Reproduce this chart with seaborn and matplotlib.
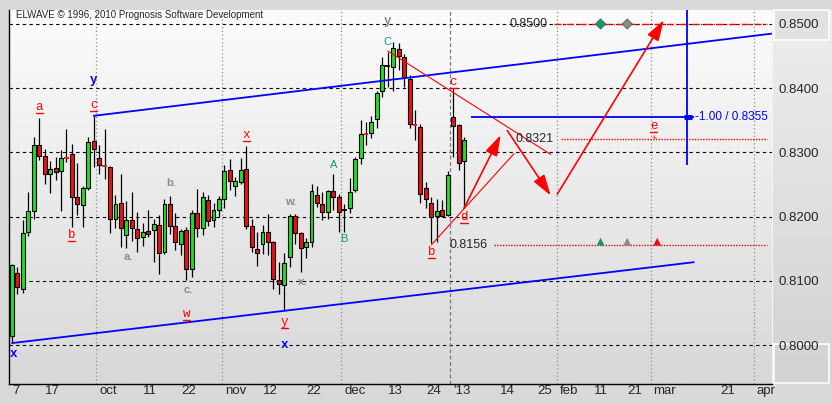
import numpy as np
import pandas as pd
import matplotlib
matplotlib.use("Agg")
import matplotlib.pyplot as plt
import matplotlib.transforms as mtrans
from matplotlib.patches import Rectangle
from matplotlib.ticker import MultipleLocator
import seaborn as sns

# daily bars, 7 sep 2012 .. 4 jan 2013
opens = [0.8014, 0.8112, 0.8088, 0.8176, 0.8208, 0.8311, 0.8295, 0.8266, 0.8275, 0.8271,
         0.8292, 0.8297, 0.8230, 0.8218, 0.8245, 0.8317, 0.8292, 0.8279, 0.8278, 0.8197,
         0.8221, 0.8172, 0.8194, 0.8180, 0.8168, 0.8178, 0.8179, 0.8187, 0.8145, 0.8219,
         0.8185, 0.8157, 0.8179, 0.8118, 0.8205, 0.8183, 0.8226, 0.8195, 0.8210, 0.8227,
         0.8273, 0.8248, 0.8254, 0.8274, 0.8185, 0.8149, 0.8157, 0.8176, 0.8161, 0.8101,
         0.8093, 0.8137, 0.8201, 0.8174, 0.8152, 0.8161, 0.8234, 0.8219, 0.8207, 0.8240,
         0.8230, 0.8211, 0.8214, 0.8241, 0.8291, 0.8329, 0.8331, 0.8352, 0.8395, 0.8434,
         0.8433, 0.8461, 0.8449, 0.8415, 0.8343, 0.8339, 0.8244, 0.8221, 0.8201, 0.8211,
         0.8202, 0.8355, 0.8343, 0.8286]
highs = [0.8126, 0.8122, 0.8195, 0.8238, 0.8324, 0.8353, 0.8305, 0.8286, 0.8293, 0.8304,
         0.8336, 0.8313, 0.8283, 0.8248, 0.8324, 0.8357, 0.8312, 0.8336, 0.8279, 0.8234,
         0.8266, 0.8224, 0.8238, 0.8207, 0.8190, 0.8210, 0.8196, 0.8203, 0.8227, 0.8232,
         0.8206, 0.8180, 0.8184, 0.8210, 0.8243, 0.8239, 0.8234, 0.8221, 0.8232, 0.8280,
         0.8290, 0.8262, 0.8292, 0.8310, 0.8197, 0.8176, 0.8187, 0.8204, 0.8162, 0.8130,
         0.8143, 0.8204, 0.8204, 0.8176, 0.8166, 0.8251, 0.8247, 0.8239, 0.8241, 0.8267,
         0.8236, 0.8220, 0.8260, 0.8293, 0.8350, 0.8348, 0.8356, 0.8396, 0.8449, 0.8457,
         0.8472, 0.8471, 0.8454, 0.8421, 0.8366, 0.8344, 0.8254, 0.8231, 0.8227, 0.8226,
         0.8271, 0.8400, 0.8344, 0.8324]
lows = [0.8005, 0.8080, 0.8081, 0.8170, 0.8197, 0.8288, 0.8251, 0.8237, 0.8257, 0.8208,
        0.8285, 0.8184, 0.8203, 0.8184, 0.8241, 0.8278, 0.8267, 0.8258, 0.8175, 0.8182,
        0.8153, 0.8151, 0.8162, 0.8145, 0.8154, 0.8169, 0.8130, 0.8110, 0.8142, 0.8173,
        0.8148, 0.8140, 0.8101, 0.8106, 0.8169, 0.8171, 0.8186, 0.8184, 0.8200, 0.8213,
        0.8241, 0.8232, 0.8251, 0.8181, 0.8145, 0.8123, 0.8142, 0.8140, 0.8087, 0.8080,
        0.8053, 0.8121, 0.8158, 0.8113, 0.8135, 0.8153, 0.8215, 0.8195, 0.8197, 0.8210,
        0.8176, 0.8176, 0.8205, 0.8239, 0.8282, 0.8312, 0.8322, 0.8338, 0.8386, 0.8402,
        0.8396, 0.8428, 0.8402, 0.8338, 0.8319, 0.8221, 0.8214, 0.8159, 0.8161, 0.8199,
        0.8201, 0.8293, 0.8273, 0.8213]
closes = [0.8125, 0.8090, 0.8174, 0.8208, 0.8311, 0.8294, 0.8266, 0.8274, 0.8270, 0.8292,
          0.8291, 0.8231, 0.8219, 0.8244, 0.8316, 0.8306, 0.8280, 0.8278, 0.8196, 0.8219,
          0.8183, 0.8194, 0.8182, 0.8166, 0.8176, 0.8173, 0.8188, 0.8144, 0.8219, 0.8186,
          0.8160, 0.8178, 0.8119, 0.8205, 0.8183, 0.8230, 0.8193, 0.8210, 0.8227, 0.8271,
          0.8255, 0.8255, 0.8273, 0.8186, 0.8152, 0.8144, 0.8176, 0.8161, 0.8103, 0.8095,
          0.8127, 0.8201, 0.8174, 0.8151, 0.8160, 0.8240, 0.8221, 0.8207, 0.8240, 0.8230,
          0.8207, 0.8211, 0.8239, 0.8289, 0.8328, 0.8328, 0.8348, 0.8392, 0.8436, 0.8434,
          0.8462, 0.8450, 0.8417, 0.8344, 0.8342, 0.8235, 0.8227, 0.8200, 0.8209, 0.8201,
          0.8265, 0.8341, 0.8283, 0.8319]

days = pd.bdate_range("2012-09-07", "2013-01-04")
days = days[~days.isin(pd.to_datetime(["2012-12-25", "2013-01-01"]))]
last = days[-1]
FUT = 0.6116  # the projection part of the axis runs in calendar days


def xpos(d):
    if isinstance(d, (int, float)):
        return float(d)
    d = pd.Timestamp(d)
    if d <= last:
        return float(days.searchsorted(d))
    return len(days) - 1 + (d - last).days * FUT


def tickpos(d):
    return xpos(d) - 0.5 if pd.Timestamp(d) <= last else xpos(d)


tick_dates = ["2012-09-07", "2012-09-17", "2012-10-01", "2012-10-11", "2012-10-22",
              "2012-11-01", "2012-11-12", "2012-11-22", "2012-12-03", "2012-12-13",
              "2012-12-24", "2013-01-02", "2013-01-14", "2013-01-25", "2013-02-01",
              "2013-02-11", "2013-02-21", "2013-03-01", "2013-03-21", "2013-04-01"]
tick_labels = ["7", "17", "oct", "11", "22", "nov", "12", "22", "dec", "13", "24", "'13",
               "14", "25", "feb", "11", "21", "mar", "21", "apr"]
month_lines = ["2012-10-01", "2012-11-01", "2012-12-03", "2013-02-01", "2013-03-01", "2013-04-01"]
year_line = "2013-01-02"
price_ticks = [0.80, 0.81, 0.82, 0.83, 0.84, 0.85]

# channel lines: (start, price), (end, price)
upper_channel = [(15, 0.8357), ("2013-04-08", 0.8486)]
lower_channel = [(0, 0.8003), ("2013-03-14", 0.8129)]
c_line = [(69, 0.8458), ("2013-01-30", 0.8297)]
b_line = [(77, 0.8156), ("2013-01-19", 0.8298)]
# projection arrows
arrows = [((83, 0.8213), ("2013-01-15", 0.8327)),
          (("2013-01-17", 0.8334), ("2013-01-30", 0.8233)),
          (("2013-02-01", 0.8235), ("2013-03-05", 0.8506))]

# target levels: price, start date, style
levels = [(0.8500, "2013-01-31", (0, (5, 1.5, 1, 1.5))),
          (0.8321, "2013-02-02", (0, (1, 1))),
          (0.8156, "2013-01-13", (0, (1, 1)))]
level_end = "2013-04-05"
diamond_dates = ["2013-02-14", "2013-02-22"]
diamond_colors = ["#13996a", "#8a8a8a"]
triangle_dates = ["2013-02-14", "2013-02-22", "2013-03-03"]
triangle_colors = ["#13996a", "#8a8a8a", "#ee1111"]

fib_price = 0.8355
fib_start, fib_end, fib_date = "2013-01-06", "2013-03-14", "2013-03-12"
fib_low = 0.8280

# wave labels: position, price, text, kind
labels = [(15, 0.8413, "y", "blue"), (5, 0.8371, "a", "red"), (15, 0.8374, "c", "red"),
          (11, 0.8171, "b", "red"), (29.3, 0.8252, "b.", "gray"), (21.3, 0.8137, "a.", "gray"),
          (32.3, 0.8086, "c.", "gray"), (32, 0.8048, "w", "red"), (0.2, 0.7986, "x", "blue"),
          (43, 0.8327, "x", "red"), (51.2, 0.8222, "w.", "gray"), (53.3, 0.8098, "x.", "gray"),
          (50, 0.8036, "y", "red"), (50, 0.8000, "x", "blue"), (59, 0.8281, "A", "green"),
          (61, 0.8165, "B", "green"), (69, 0.8472, "C", "green"), (69, 0.8504, "y", "grey"),
          (81, 0.8410, "c", "red"), (77, 0.8145, "b", "red"), (83, 0.8200, "d", "red"),
          ("2013-03-02", 0.8341, "e", "red")]

sns.set_style("white")
plt.rcParams["font.family"] = ["Liberation Sans", "DejaVu Sans"]

W, H = 832, 404
fig = plt.figure(figsize=(W / 100, H / 100), dpi=100, facecolor="#d9d9d9")
PX = 5.446  # pixels per bar
x0, x1 = -0.52, 139.55
y0, y1 = 0.79393, 0.85218
left_px = 12 + PX * x0
rect = [left_px / W, 20 / H, (x1 - x0) * PX / W, 374 / H]

bg = fig.add_axes(rect, zorder=0)
bg.imshow(np.linspace(0, 1, 256)[:, None], cmap=matplotlib.colors.LinearSegmentedColormap.from_list(
    "bg", ["#fcfcfc", "#d8d8d8"]), aspect="auto", extent=[0, 1, 0, 1])
bg.set_axis_off()
side = fig.add_axes([773 / W, 20 / H, 59 / W, 374 / H], zorder=0)
side.imshow(np.linspace(0, 1, 256)[:, None], cmap=matplotlib.colors.LinearSegmentedColormap.from_list(
    "side", ["#eeeeee", "#d2d2d2"]), aspect="auto", extent=[0, 1, 0, 1])
side.set_axis_off()

ax = fig.add_axes(rect, zorder=1)
ax.set_facecolor("none")
ax.set_xlim(x0, x1)
ax.set_ylim(y0, y1)

# grid
ax.hlines(price_ticks, x0, x1, colors="black", lw=0.8, linestyles=[(0, (3, 3))], zorder=1)
ax.vlines([tickpos(d) for d in month_lines], y0, y1, colors="#8c8c8c", lw=0.9,
          linestyles=[(0, (1, 2))], zorder=1)
ax.vlines(tickpos(year_line), y0, y1, colors="#7a7a7a", lw=0.9, linestyles=[(0, (3, 2))], zorder=1)

# candles
o, h, l, c = map(np.array, (opens, highs, lows, closes))
xs = np.arange(len(o))
ax.vlines(xs, l, h, colors="black", lw=0.9, zorder=3)
body = np.abs(c - o) >= 0.00025
up = c > o
ax.bar(xs[body], np.abs(c - o)[body], bottom=np.minimum(o, c)[body], width=0.72,
       color=np.where(up[body], "#1fe01f", "#ee1111"), edgecolor="black", linewidth=0.8, zorder=4)
for i in xs[~body]:
    ax.hlines(o[i], i - 0.45, i + 0.45, colors="#ee1111" if c[i] < o[i] else "black", lw=1.3, zorder=4)

# channel and trend lines
for line, col, lw in [(upper_channel, "#0000ff", 1.3), (lower_channel, "#0000ff", 1.3),
                      (c_line, "#ff0000", 0.8), (b_line, "#ff0000", 0.8)]:
    sns.lineplot(x=[xpos(p[0]) for p in line], y=[p[1] for p in line], color=col, lw=lw,
                 ax=ax, zorder=5)

for (a, pa), (b, pb) in arrows:
    ax.annotate("", xy=(xpos(b), pb), xytext=(xpos(a), pa), zorder=6,
                arrowprops=dict(arrowstyle="-|>,head_length=0.9,head_width=0.28", color="#ff0000",
                                lw=1.2, mutation_scale=14, shrinkA=0, shrinkB=0))

# target levels
for price, start, ls in levels:
    ax.hlines(price, xpos(start), xpos(level_end), colors="#ff0000", lw=1.0, linestyles=[ls], zorder=5)
    txt_x = xpos(pd.Timestamp(start) - pd.Timedelta(days=2))
    ax.text(txt_x, price, f"{price:.4f}", ha="right", va="center", fontsize=9, zorder=6)

sns.scatterplot(x=[xpos(d) for d in diamond_dates], y=[0.85] * len(diamond_dates),
                hue=diamond_dates, palette=diamond_colors, marker="D", s=28, edgecolor="#555555",
                linewidth=0.5, legend=False, ax=ax, zorder=7)
sns.scatterplot(x=[xpos(d) for d in triangle_dates], y=[0.8161] * len(triangle_dates),
                hue=triangle_dates, palette=triangle_colors, marker="^", s=32, edgecolor="none",
                legend=False, ax=ax, zorder=7)

# fibonacci projection marker
ax.hlines(fib_price, xpos(fib_start), xpos(fib_end), colors="#0000ff", lw=1.3, zorder=5)
ax.vlines(xpos(fib_date), fib_low, y1, colors="#0000ff", lw=1.3, zorder=5)
ax.hlines(fib_price, xpos(fib_date) - 0.6, xpos(fib_date) + 0.9, colors="#0000ff", lw=3.5, zorder=6)
ax.text(xpos(fib_end) + 0.2, fib_price, "-1.00 / 0.8355", color="#0000ff", fontsize=8.5,
        ha="left", va="center", zorder=6)
ax.text(xpos("2013-03-02"), 0.8321, "+", color="#ff0000", fontsize=6, ha="center", va="center", zorder=6)

# wave labels
styles = {"red": dict(color="#ff0000", family=["Liberation Mono"], fontsize=9),
          "blue": dict(color="#0000ff", family=["Liberation Mono"], fontsize=9, weight="bold"),
          "grey": dict(color="#8a8a8a", family=["Liberation Mono"], fontsize=9, weight="bold"),
          "gray": dict(color="#8a8a8a", family=["Liberation Sans"], fontsize=8, weight="bold"),
          "green": dict(color="#13996a", family=["Liberation Sans"], fontsize=8)}
for pos, price, text, kind in labels:
    xx = xpos(pos)
    ax.text(xx, price, text, ha="center", va="center", zorder=8, **styles[kind])
    if kind == "red":
        ax.plot([xx - 0.65, xx + 0.65], [price - 0.00092] * 2, color="#ff0000", lw=1.0, zorder=8)

# axes
for s in ["top"]:
    ax.spines[s].set_visible(False)
ax.spines["right"].set_color("#f4f4f4")
ax.spines["left"].set_color("black")
ax.spines["bottom"].set_color("black")
ax.spines["left"].set_linewidth(1.0)
ax.spines["bottom"].set_linewidth(1.0)

ax.yaxis.tick_right()
ax.set_yticks(price_ticks)
ax.set_yticklabels([f"{p:.4f}" for p in price_ticks], fontsize=9.5)
ax.tick_params(axis="y", length=0, pad=4.5)

ax.set_xticks([tickpos(d) for d in tick_dates])
ax.set_xticklabels(tick_labels, fontsize=9.5, ha="left")
ax.xaxis.set_minor_locator(MultipleLocator(1.5))
ax.tick_params(axis="x", which="major", length=9.5, width=0.9, color="black", pad=-8.5, direction="out")
ax.tick_params(axis="x", which="minor", length=3, width=0.8, color="black", direction="out")
shift = mtrans.ScaledTranslation(3 / 100, 0, fig.dpi_scale_trans)
for lab in ax.get_xticklabels():
    lab.set_transform(lab.get_transform() + shift)
ax.set_xlabel("")
ax.set_ylabel("")

# price box highlights on the right scale
fig.patches.append(Rectangle((774 / W, 1 - 40 / H), 55 / W, 30 / H, transform=fig.transFigure,
                             facecolor="#e2e2e2", edgecolor="white", lw=1.2, zorder=0.5))
fig.patches.append(Rectangle((774 / W, 1 - 383 / H), 55 / W, 39 / H, transform=fig.transFigure,
                             facecolor="none", edgecolor="white", lw=1.2, zorder=0.5))

fig.text(16 / W, 1 - 15 / H, "ELWAVE \u00a9 1996, 2010 Prognosis Software Development",
         fontsize=7, va="center", ha="left", zorder=10)

fig.savefig("out.png", dpi=100, facecolor=fig.get_facecolor())
